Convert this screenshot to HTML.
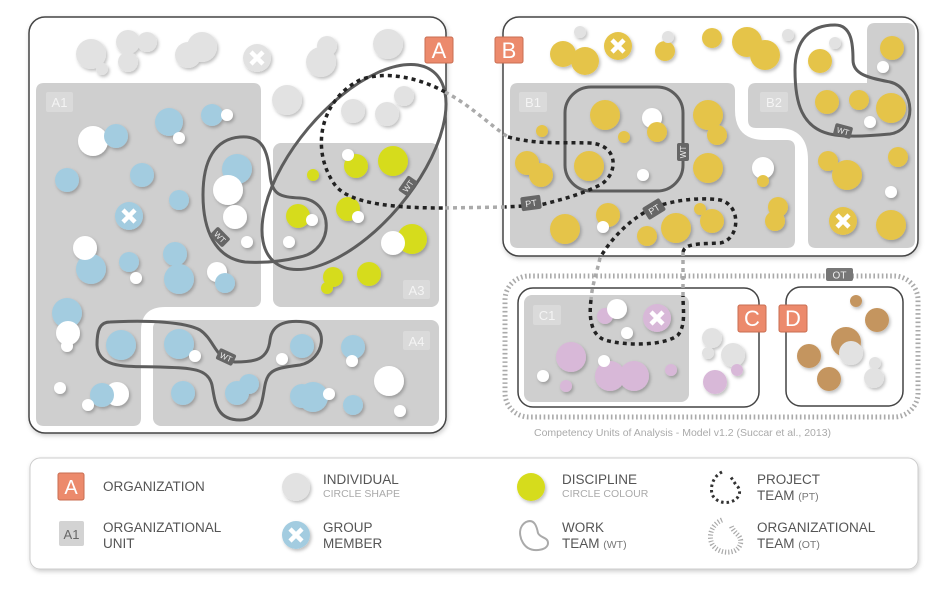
<!DOCTYPE html>
<html><head><meta charset="utf-8"><style>
html,body{margin:0;padding:0;background:#fff;}
svg{display:block;font-family:"Liberation Sans",sans-serif;}
</style></head><body>
<svg width="950" height="594" viewBox="0 0 950 594" xmlns="http://www.w3.org/2000/svg">
<defs>
<filter id="sh" x="-30%" y="-30%" width="160%" height="160%"><feDropShadow dx="1.5" dy="2" stdDeviation="1.5" flood-color="#000" flood-opacity="0.25"/></filter>
<filter id="bs" x="-10%" y="-10%" width="120%" height="120%"><feDropShadow dx="1" dy="2" stdDeviation="2.5" flood-color="#000" flood-opacity="0.2"/></filter>
</defs>
<rect width="950" height="594" fill="#fff"/>

<!-- ORG A -->
<rect x="29" y="17" width="417" height="416" rx="16" fill="#fff" stroke="#444" stroke-width="1.5" filter="url(#bs)"/>
<path d="M44,83 H253 Q261,83 261,91 V299 Q261,307 253,307 H165 Q141,307 141,331 V418 Q141,426 133,426 H44 Q36,426 36,418 V91 Q36,83 44,83Z" fill="#cfcfcf"/>
<rect x="273" y="143" width="166" height="164" rx="8" fill="#cfcfcf"/>
<rect x="153" y="320" width="286" height="106" rx="8" fill="#cfcfcf"/>

<!-- ORG B -->
<rect x="503" y="17" width="415" height="239" rx="16" fill="#fff" stroke="#444" stroke-width="1.5" filter="url(#bs)"/>
<path d="M518,83 H727 Q735,83 735,91 V110 Q735,140 765,140 H787 Q795,140 795,148 V240 Q795,248 787,248 H518 Q510,248 510,240 V91 Q510,83 518,83Z" fill="#cfcfcf"/>
<path d="M756,83 H867 V31 Q867,23 875,23 H907 Q915,23 915,31 V240 Q915,248 907,248 H816 Q808,248 808,240 V160 Q808,128 778,128 H756 Q748,128 748,120 V91 Q748,83 756,83Z" fill="#cfcfcf"/>

<!-- OT -->
<rect x="505" y="276" width="413" height="141" rx="24" fill="none" stroke="#aaa" stroke-width="5" stroke-dasharray="1.6 2.6"/>
<rect x="826" y="268" width="27" height="13" rx="2" fill="#777"/>
<text x="839.5" y="278.5" font-size="10" fill="#eee" text-anchor="middle">OT</text>

<!-- ORG C, D -->
<rect x="518" y="288" width="241" height="119" rx="15" fill="#fff" stroke="#444" stroke-width="1.5"/>
<rect x="524" y="295" width="165" height="107" rx="8" fill="#cfcfcf"/>
<rect x="786" y="287" width="117" height="119" rx="15" fill="#fff" stroke="#444" stroke-width="1.5"/>

<!-- unit labels -->
<g font-size="13" fill="#f4f4f4" text-anchor="middle">
<rect x="46" y="92" width="27" height="20" rx="2" fill="#dadada"/><text x="59.5" y="107">A1</text>
<rect x="403" y="280" width="27" height="19" rx="2" fill="#dadada"/><text x="416.5" y="295">A3</text>
<rect x="403" y="331" width="27" height="19" rx="2" fill="#dadada"/><text x="416.5" y="346">A4</text>
<rect x="519" y="92" width="28" height="20" rx="2" fill="#dadada"/><text x="533" y="107">B1</text>
<rect x="760" y="92" width="28" height="20" rx="2" fill="#dadada"/><text x="774" y="107">B2</text>
<rect x="533" y="305" width="28" height="20" rx="2" fill="#dadada"/><text x="547" y="320">C1</text>
</g>

<!-- circles -->
<g filter="url(#sh)">
<g fill="#e2e2e2">
<circle cx="91" cy="54" r="15"/><circle cx="128" cy="42" r="12"/><circle cx="147" cy="42" r="10"/><circle cx="128" cy="62" r="10"/><circle cx="102" cy="69" r="6"/>
<circle cx="202" cy="47" r="15"/><circle cx="188" cy="55" r="13"/><circle cx="257" cy="58" r="14"/>
<circle cx="321" cy="62" r="15"/><circle cx="327" cy="46" r="10"/><circle cx="388" cy="44" r="15"/>
<circle cx="287" cy="100" r="15"/><circle cx="353" cy="111" r="12"/><circle cx="387" cy="114" r="12"/><circle cx="404" cy="96" r="10"/>
</g>
<circle cx="169" cy="122" r="14" fill="#a3cce0"/><circle cx="179" cy="138" r="6" fill="#fff"/>
<circle cx="212" cy="115" r="11" fill="#a3cce0"/><circle cx="227" cy="115" r="6" fill="#fff"/>
<circle cx="93" cy="141" r="15" fill="#fff"/><circle cx="116" cy="136" r="12" fill="#a3cce0"/>
<circle cx="67" cy="180" r="12" fill="#a3cce0"/><circle cx="142" cy="175" r="12" fill="#a3cce0"/><circle cx="179" cy="200" r="10" fill="#a3cce0"/>
<circle cx="129" cy="216" r="14" fill="#a3cce0"/>
<circle cx="91" cy="269" r="15" fill="#a3cce0"/><circle cx="85" cy="248" r="12" fill="#fff"/>
<circle cx="129" cy="262" r="10" fill="#a3cce0"/><circle cx="136" cy="278" r="6" fill="#fff"/>
<circle cx="175" cy="254" r="12" fill="#a3cce0"/><circle cx="179" cy="279" r="15" fill="#a3cce0"/>
<circle cx="217" cy="272" r="10" fill="#fff"/><circle cx="225" cy="283" r="10" fill="#a3cce0"/>
<circle cx="237" cy="169" r="15" fill="#a3cce0"/><circle cx="228" cy="190" r="15" fill="#fff"/><circle cx="235" cy="217" r="12" fill="#fff"/><circle cx="247" cy="242" r="6" fill="#fff"/>
<circle cx="67" cy="313" r="15" fill="#a3cce0"/><circle cx="68" cy="333" r="12" fill="#fff"/><circle cx="67" cy="346" r="6" fill="#fff"/>
<circle cx="60" cy="388" r="6" fill="#fff"/>
<circle cx="117" cy="394" r="12" fill="#fff"/><circle cx="102" cy="395" r="12" fill="#a3cce0"/><circle cx="88" cy="405" r="6" fill="#fff"/>
<circle cx="121" cy="345" r="15" fill="#a3cce0"/>
<circle cx="179" cy="344" r="15" fill="#a3cce0"/><circle cx="195" cy="356" r="6" fill="#fff"/>
<circle cx="183" cy="393" r="12" fill="#a3cce0"/>
<circle cx="237" cy="393" r="12" fill="#a3cce0"/><circle cx="249" cy="384" r="10" fill="#a3cce0"/>
<circle cx="302" cy="346" r="12" fill="#a3cce0"/><circle cx="282" cy="359" r="6" fill="#fff"/>
<circle cx="313" cy="397" r="15" fill="#a3cce0"/><circle cx="302" cy="396" r="12" fill="#a3cce0"/><circle cx="329" cy="394" r="6" fill="#fff"/>
<circle cx="353" cy="347" r="12" fill="#a3cce0"/><circle cx="352" cy="361" r="6" fill="#fff"/>
<circle cx="389" cy="381" r="15" fill="#fff"/><circle cx="353" cy="405" r="10" fill="#a3cce0"/><circle cx="400" cy="411" r="6" fill="#fff"/>
<circle cx="356" cy="166" r="12" fill="#d6dc1e"/><circle cx="348" cy="155" r="6" fill="#fff"/>
<circle cx="393" cy="161" r="15" fill="#d6dc1e"/><circle cx="313" cy="175" r="6" fill="#d6dc1e"/>
<circle cx="348" cy="209" r="12" fill="#d6dc1e"/><circle cx="358" cy="217" r="6" fill="#fff"/>
<circle cx="298" cy="216" r="12" fill="#d6dc1e"/><circle cx="312" cy="220" r="6" fill="#fff"/>
<circle cx="289" cy="242" r="6" fill="#fff"/>
<circle cx="412" cy="239" r="15" fill="#d6dc1e"/><circle cx="393" cy="243" r="12" fill="#fff"/>
<circle cx="333" cy="277" r="10" fill="#d6dc1e"/><circle cx="327" cy="288" r="6" fill="#d6dc1e"/>
<circle cx="369" cy="274" r="12" fill="#d6dc1e"/>
<circle cx="580" cy="32" r="6" fill="#e2e2e2"/>
<circle cx="563" cy="54" r="13" fill="#e5c44a"/><circle cx="585" cy="61" r="14" fill="#e5c44a"/>
<circle cx="618" cy="46" r="14" fill="#e5c44a"/>
<circle cx="665" cy="51" r="10" fill="#e5c44a"/><circle cx="668" cy="37" r="6" fill="#e2e2e2"/>
<circle cx="712" cy="38" r="10" fill="#e5c44a"/>
<circle cx="747" cy="42" r="15" fill="#e5c44a"/><circle cx="765" cy="55" r="15" fill="#e5c44a"/>
<circle cx="788" cy="35" r="6" fill="#e2e2e2"/>
<circle cx="820" cy="61" r="12" fill="#e5c44a"/><circle cx="835" cy="43" r="6" fill="#e2e2e2"/>
<circle cx="892" cy="48" r="12" fill="#e5c44a"/><circle cx="883" cy="67" r="6" fill="#fff"/>
<circle cx="827" cy="102" r="12" fill="#e5c44a"/><circle cx="859" cy="100" r="10" fill="#e5c44a"/><circle cx="891" cy="108" r="15" fill="#e5c44a"/><circle cx="870" cy="122" r="6" fill="#fff"/>
<circle cx="828" cy="161" r="10" fill="#e5c44a"/><circle cx="847" cy="175" r="15" fill="#e5c44a"/><circle cx="898" cy="157" r="10" fill="#e5c44a"/>
<circle cx="891" cy="192" r="6" fill="#fff"/><circle cx="843" cy="221" r="14" fill="#e5c44a"/><circle cx="891" cy="225" r="15" fill="#e5c44a"/>
<circle cx="605" cy="115" r="15" fill="#e5c44a"/><circle cx="652" cy="118" r="10" fill="#fff"/><circle cx="657" cy="132" r="10" fill="#e5c44a"/>
<circle cx="542" cy="131" r="6" fill="#e5c44a"/><circle cx="624" cy="137" r="6" fill="#e5c44a"/>
<circle cx="708" cy="115" r="15" fill="#e5c44a"/><circle cx="717" cy="135" r="10" fill="#e5c44a"/>
<circle cx="527" cy="163" r="12" fill="#e5c44a"/><circle cx="541" cy="175" r="12" fill="#e5c44a"/>
<circle cx="589" cy="166" r="15" fill="#e5c44a"/><circle cx="643" cy="175" r="6" fill="#fff"/><circle cx="708" cy="168" r="15" fill="#e5c44a"/>
<circle cx="763" cy="168" r="11" fill="#fff"/><circle cx="763" cy="181" r="6" fill="#e5c44a"/>
<circle cx="778" cy="207" r="10" fill="#e5c44a"/><circle cx="775" cy="221" r="10" fill="#e5c44a"/>
<circle cx="565" cy="229" r="15" fill="#e5c44a"/><circle cx="608" cy="215" r="12" fill="#e5c44a"/><circle cx="603" cy="227" r="6" fill="#fff"/>
<circle cx="647" cy="236" r="10" fill="#e5c44a"/><circle cx="676" cy="228" r="15" fill="#e5c44a"/>
<circle cx="712" cy="221" r="12" fill="#e5c44a"/><circle cx="700" cy="209" r="6" fill="#e5c44a"/>
<circle cx="605" cy="316" r="8" fill="#d8b8d8"/><circle cx="617" cy="309" r="10" fill="#fff"/>
<circle cx="657" cy="318" r="14" fill="#d8b8d8"/><circle cx="627" cy="333" r="6" fill="#fff"/>
<circle cx="571" cy="357" r="15" fill="#d8b8d8"/>
<circle cx="610" cy="376" r="15" fill="#d8b8d8"/><circle cx="634" cy="376" r="15" fill="#d8b8d8"/><circle cx="604" cy="361" r="6" fill="#fff"/>
<circle cx="671" cy="370" r="6" fill="#d8b8d8"/><circle cx="543" cy="376" r="6" fill="#fff"/><circle cx="566" cy="386" r="6" fill="#d8b8d8"/>
<circle cx="712" cy="338" r="10" fill="#e2e2e2"/><circle cx="708" cy="353" r="6" fill="#e2e2e2"/><circle cx="733" cy="355" r="12" fill="#e2e2e2"/>
<circle cx="737" cy="370" r="6" fill="#d8b8d8"/><circle cx="715" cy="382" r="12" fill="#d8b8d8"/>
<circle cx="856" cy="301" r="6" fill="#c4955f"/><circle cx="877" cy="320" r="12" fill="#c4955f"/>
<circle cx="846" cy="342" r="15" fill="#c4955f"/><circle cx="851" cy="353" r="12" fill="#e2e2e2"/>
<circle cx="809" cy="356" r="12" fill="#c4955f"/><circle cx="829" cy="379" r="12" fill="#c4955f"/>
<circle cx="875" cy="363" r="6" fill="#e2e2e2"/><circle cx="874" cy="378" r="10" fill="#e2e2e2"/>
</g>
<g stroke="#fff" stroke-width="4.5" stroke-linecap="butt">
<path d="M251,52 L263,64 M263,52 L251,64"/>
<path d="M123,210 L135,222 M135,210 L123,222"/>
<path d="M612,40 L624,52 M624,40 L612,52"/>
<path d="M837,215 L849,227 M849,215 L837,227"/>
<path d="M651,312 L663,324 M663,312 L651,324"/>
</g>

<!-- Work teams -->
<g fill="none" stroke="#5d5d5d" stroke-width="3">
<path d="M240,137 C262,135 268,150 270,175 C272,195 280,197 300,198 C335,200 335,250 300,257 C280,262 260,263 245,262 C215,258 203,230 203,195 C203,160 215,139 240,137 Z"/>
<ellipse cx="354" cy="167" rx="124" ry="60" transform="rotate(-50 354 167)"/>
<path d="M110,322 C150,320 185,322 200,330 C215,340 215,360 235,362 C255,362 268,360 270,340 C272,322 290,320 305,322 C330,325 325,360 300,365 C275,368 268,370 265,385 C262,400 262,420 240,420 C215,420 215,400 212,385 C208,368 190,368 160,367 C130,366 98,370 97,345 C97,330 100,322 110,322 Z"/>
<rect x="565" y="87" width="118" height="104" rx="26"/>
<path d="M835,25 C852,25 853,45 853,60 C853,75 870,78 890,82 C915,88 918,130 890,134 C870,136 850,137 835,135 C800,130 795,100 795,70 C795,40 810,25 835,25Z"/>
</g>

<!-- Project teams -->
<g fill="none" stroke="#aaa" stroke-width="3.5" stroke-dasharray="4 4">
<path d="M445,92 C470,105 490,125 508,137"/>
<path d="M445,208 L505,207"/>
<path d="M600,258 C597,272 592,285 591,300"/>
<path d="M683,252 L683,296"/>
</g>
<g fill="none" stroke="#222" stroke-width="3.5" stroke-dasharray="4 4">
<path d="M445,92 C420,78 385,70 360,80 C320,100 310,150 335,185 C350,205 400,208 445,208"/>
<path d="M508,137 C540,145 560,142 590,143 C620,145 618,175 600,185 C580,195 560,200 540,205 L505,207"/>
<path d="M683,252 C685,243 700,244 720,243 C740,240 742,205 720,200 C700,197 675,200 655,207 C630,218 610,240 600,258"/>
<path d="M591,300 C589,315 590,335 605,340 C625,346 665,346 678,335 C686,325 683,310 683,296"/>
</g>

<!-- team labels -->
<g font-size="8" fill="#eee" text-anchor="middle">
<g transform="translate(220,237) rotate(45)"><rect x="-9" y="-6" width="18" height="12" rx="2" fill="#666"/><text y="3">WT</text></g>
<g transform="translate(408,186) rotate(-55)"><rect x="-9" y="-6" width="18" height="12" rx="2" fill="#666"/><text y="3">WT</text></g>
<g transform="translate(226,357) rotate(25)"><rect x="-9" y="-6" width="18" height="12" rx="2" fill="#666"/><text y="3">WT</text></g>
<g transform="translate(683,152) rotate(-90)"><rect x="-9" y="-6" width="18" height="12" rx="2" fill="#666"/><text y="3">WT</text></g>
<g transform="translate(843,131) rotate(15)"><rect x="-9" y="-6" width="18" height="12" rx="2" fill="#666"/><text y="3">WT</text></g>
<g transform="translate(531,203) rotate(-8)"><rect x="-10" y="-7" width="20" height="14" rx="2" fill="#666"/><text y="3.5" font-size="9">PT</text></g>
<g transform="translate(654,209) rotate(-32)"><rect x="-10" y="-7" width="20" height="14" rx="2" fill="#666"/><text y="3.5" font-size="9">PT</text></g>
</g>

<!-- Org labels -->
<g font-size="22" fill="#fff" text-anchor="middle">
<rect x="425" y="37" width="28" height="26" rx="2" fill="#ec8a6c" stroke="#c96e52"/><text x="439" y="58">A</text>
<rect x="495" y="37" width="28" height="26" rx="2" fill="#ec8a6c" stroke="#c96e52"/><text x="509" y="58">B</text>
<rect x="738" y="305" width="28" height="27" rx="2" fill="#ec8a6c" stroke="#c96e52"/><text x="752" y="326">C</text>
<rect x="779" y="305" width="28" height="27" rx="2" fill="#ec8a6c" stroke="#c96e52"/><text x="793" y="326">D</text>
</g>

<text x="534" y="436" font-size="10.5" fill="#aaa">Competency Units of Analysis - Model v1.2  (Succar et al., 2013)</text>

<!-- Legend -->
<rect x="30" y="458" width="888" height="111" rx="10" fill="#fff" stroke="#ccc" filter="url(#bs)"/>
<rect x="58" y="473" width="26" height="27" rx="2" fill="#ec8a6c" stroke="#c96e52"/><text x="71" y="494" font-size="20" fill="#fff" text-anchor="middle">A</text>
<rect x="59" y="521" width="25" height="25" rx="2" fill="#d3d3d3"/><text x="71.5" y="539" font-size="13" fill="#666" text-anchor="middle">A1</text>
<g filter="url(#sh)">
<circle cx="296" cy="487" r="14" fill="#e2e2e2"/>
<circle cx="296" cy="535" r="14" fill="#a3cce0"/>
<circle cx="531" cy="487" r="14" fill="#d6dc1e"/>
</g>
<path d="M290,529 L302,541 M302,529 L290,541" stroke="#fff" stroke-width="4.5"/>
<path d="M526,522 C535,518 537,528 538,533 C540,538 548,537 548,543 C548,550 535,552 528,548 C520,543 516,528 526,522 Z" fill="none" stroke="#aaa" stroke-width="2"/>
<path d="M722,472 C714,476 710,485 712,494 C714,500 722,504 730,502 C738,500 742,493 738,487 C735,484 733,480 730,476" fill="none" stroke="#333" stroke-width="3" stroke-dasharray="2.5 3"/>
<path d="M722,520 C712,524 708,535 712,544 C716,551 726,554 734,551 C741,548 743,540 738,535 C735,532 732,529 731,525" fill="none" stroke="#aaa" stroke-width="5" stroke-dasharray="1.2 2"/>
<g font-size="13.5" fill="#555">
<text x="103" y="491">ORGANIZATION</text>
<text x="103" y="532">ORGANIZATIONAL</text><text x="103" y="548">UNIT</text>
<text x="323" y="484">INDIVIDUAL</text><text x="323" y="497" font-size="10.5" fill="#aaa">CIRCLE SHAPE</text>
<text x="323" y="532">GROUP</text><text x="323" y="548">MEMBER</text>
<text x="562" y="484">DISCIPLINE</text><text x="562" y="497" font-size="10.5" fill="#aaa">CIRCLE COLOUR</text>
<text x="562" y="532">WORK</text><text x="562" y="548">TEAM <tspan font-size="10.5" fill="#777">(WT)</tspan></text>
<text x="757" y="484">PROJECT</text><text x="757" y="500">TEAM <tspan font-size="10.5" fill="#777">(PT)</tspan></text>
<text x="757" y="532">ORGANIZATIONAL</text><text x="757" y="548">TEAM <tspan font-size="10.5" fill="#777">(OT)</tspan></text>
</g>
</svg>
</body></html>
